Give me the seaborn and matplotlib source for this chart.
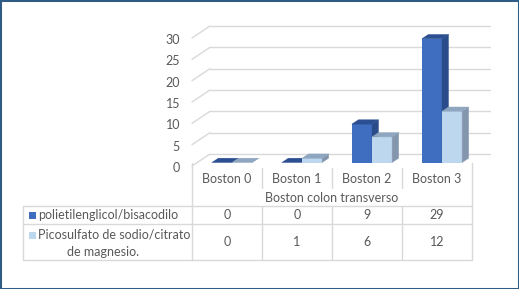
import matplotlib
matplotlib.use("Agg")
import matplotlib.pyplot as plt
import matplotlib.transforms as mtransforms
from matplotlib.patches import Polygon, Rectangle
from matplotlib.lines import Line2D
import seaborn as sns
import pandas as pd

categories = ["Boston 0", "Boston 1", "Boston 2", "Boston 3"]
series_names = ["polietilenglicol/bisacodilo", "Picosulfato de sodio/citrato de magnesio."]
series_labels = ["polietilenglicol/bisacodilo", "Picosulfato de sodio/citrato\nde magnesio."]
peg_values = [0, 0, 9, 29]
pico_values = [0, 1, 6, 12]
y_ticks = [0, 5, 10, 15, 20, 25, 30]
axis_title = "Boston colon transverso"

front_colors = ["#3F6DBF", "#BDD7EE"]
top_colors = ["#2C4F92", "#8FA6C0"]
side_colors = ["#2A4C8A", "#8496AE"]
text_color = "#595959"
grid_color = "#D9D9D9"

df = pd.DataFrame({
    "cat": categories * 2,
    "serie": [series_names[0]] * 4 + [series_names[1]] * 4,
    "val": peg_values + pico_values,
})

sns.set_theme(style="white")
plt.rcParams["font.family"] = ["Lato", "DejaVu Sans"]

W, H = 519, 289
fig = plt.figure(figsize=(W / 100, H / 100), dpi=100)
fig.patch.set_facecolor("white")

def fx(x):
    return x / W

def fy(y):
    return 1 - y / H

# bar plane axes
ax_left, ax_right, ax_y0, ax_y30 = 197, 477, 162.5, 34.5
ax = fig.add_axes([fx(ax_left), fy(ax_y0), (ax_right - ax_left) / W, (ax_y0 - ax_y30) / H])
ax.set_facecolor("none")

sns.barplot(data=df, x="cat", y="val", hue="serie", order=categories,
            hue_order=series_names, palette=front_colors, width=0.575,
            gap=0, saturation=1, ax=ax, legend=False, linewidth=0)
ax.set_xlim(-0.5, 3.5)
ax.set_ylim(0, 30)
for s in ax.spines.values():
    s.set_visible(False)
ax.set_xticks([])
ax.set_yticks([])
ax.set_xlabel("")
ax.set_ylabel("")

fs = 9.0

# depth offsets in pixels (y up)
back_dx, back_dy = 13, 8.5
front_dx, front_dy = -5, -3.5
back_t = mtransforms.offset_copy(ax.transData, fig=fig, x=back_dx, y=back_dy, units="dots")
front_t = mtransforms.offset_copy(ax.transData, fig=fig, x=front_dx, y=front_dy, units="dots")

# gridlines on back wall + oblique side wall lines
for v in y_ticks:
    ax.add_line(Line2D([-0.5, 3.5], [v, v], transform=back_t, color=grid_color,
                       lw=1.0, zorder=0.5, clip_on=False))
    p_front = front_t.transform((-0.5, v))
    p_back = back_t.transform((-0.5, v))
    ax.add_line(Line2D([p_front[0], p_back[0]], [p_front[1], p_back[1]], transform=None,
                       color=grid_color, lw=1.0, zorder=0.5, clip_on=False))
    ax.text(-0.5, v, str(v), transform=mtransforms.offset_copy(ax.transData, fig=fig, x=-17, y=-5.5, units="dots"),
            ha="right", va="center", fontsize=fs, color=text_color)

# 3D faces for bars
bdx, bdy = 6.5, 4.3
patches = list(ax.patches)
for i, p in enumerate(patches):
    si = i // len(categories)
    base_z = 2 + si
    p.set_zorder(base_z)
    p.set_facecolor(front_colors[si])
    p.set_edgecolor("none")
    x0, y0 = p.get_x(), p.get_y()
    x1, y1 = x0 + p.get_width(), y0 + p.get_height()
    (dx0, dy0) = ax.transData.transform((x0, y0))
    (dx1, dy1) = ax.transData.transform((x1, y1))
    top = Polygon([(dx0, dy1), (dx1, dy1), (dx1 + bdx, dy1 + bdy), (dx0 + bdx, dy1 + bdy)],
                  closed=True, transform=None, facecolor=top_colors[si],
                  edgecolor=top_colors[si], lw=0.3, zorder=base_z + 0.2, clip_on=False)
    side = Polygon([(dx1, dy0), (dx1 + bdx, dy0 + bdy), (dx1 + bdx, dy1 + bdy), (dx1, dy1)],
                   closed=True, transform=None, facecolor=side_colors[si],
                   edgecolor=side_colors[si], lw=0.3, zorder=base_z + 0.1, clip_on=False)
    ax.add_artist(side)
    ax.add_artist(top)

# data table (figure pixel coordinates)
col_edges = [192, 262, 332, 402, 472]
col_centers = [(col_edges[i] + col_edges[i + 1]) / 2 for i in range(4)]
tab_left = 23
row_tops = [206, 224, 260]

def hline(y, x0, x1):
    fig.add_artist(Line2D([fx(x0), fx(x1)], [fy(y), fy(y)], color=grid_color, lw=1.0))

def vline(x, y0, y1):
    fig.add_artist(Line2D([fx(x), fx(x)], [fy(y0), fy(y1)], color=grid_color, lw=1.0))

for y in row_tops:
    hline(y, tab_left, col_edges[-1])
vline(tab_left, row_tops[0], row_tops[-1])
vline(col_edges[0], 163, row_tops[-1])
vline(col_edges[-1], 163, row_tops[-1])
for x in col_edges[1:-1]:
    vline(x, 168, 188)
    vline(x, row_tops[0], row_tops[-1])

for c, xc in zip(categories, col_centers):
    fig.text(fx(xc), fy(179), c, ha="center", va="center", fontsize=fs, color=text_color)
fig.text(fx((col_edges[0] + col_edges[-1]) / 2), fy(198), axis_title, ha="center", va="center",
         fontsize=fs, color=text_color)

row_centers = [215, 242]
all_vals = [peg_values, pico_values]
for r, (vals, yc) in enumerate(zip(all_vals, row_centers)):
    for v, xc in zip(vals, col_centers):
        fig.text(fx(xc), fy(yc), str(v), ha="center", va="center", fontsize=fs, color=text_color)

# legend keys + series labels
fig.add_artist(Rectangle((fx(28.5), fy(218.5)), 7 / W, 7 / H, facecolor=front_colors[0], edgecolor="none"))
fig.text(fx(38.5), fy(215), series_labels[0], ha="left", va="center", fontsize=fs, color=text_color)
fig.add_artist(Rectangle((fx(28.5), fy(238.5)), 7 / W, 7 / H, facecolor=front_colors[1], edgecolor="none"))
l1, l2 = series_labels[1].split("\n")
fig.text(fx(38.5), fy(234.5), l1, ha="left", va="center", fontsize=fs, color=text_color)
fig.text(fx(103), fy(252), l2, ha="center", va="center", fontsize=fs, color=text_color)

# outer border
fig.add_artist(Rectangle((0, 0), 1, 1, transform=fig.transFigure, fill=False,
                         edgecolor="#2E5C85", lw=2.2))

fig.savefig("out.png", dpi=100, facecolor="white")
